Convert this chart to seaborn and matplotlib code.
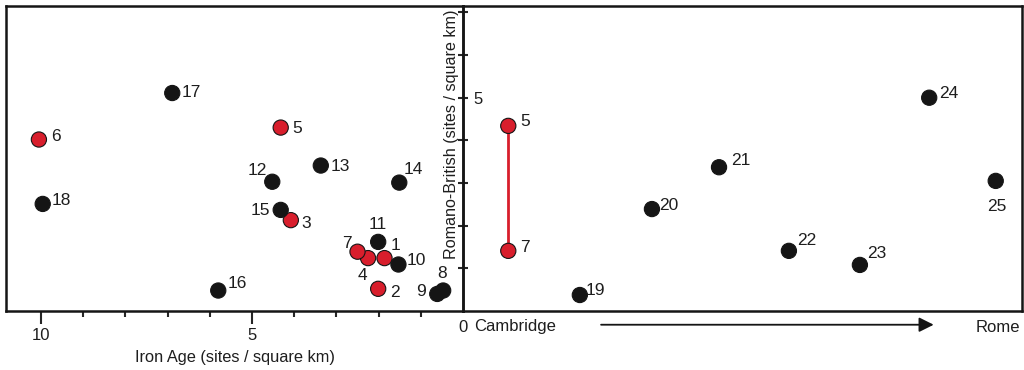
import pandas as pd
import matplotlib.pyplot as plt
import seaborn as sns

# Left panel: Iron Age density vs Romano-British density
left_ids = ['1', '2', '3', '4', '5', '6', '7', '8', '9', '10',
            '11', '12', '13', '14', '15', '16', '17', '18']
left_iron = [1.86, 2.01, 4.08, 2.25, 4.32, 10.05, 2.50, 0.47, 0.61, 1.53,
             2.01, 4.52, 3.37, 1.51, 4.32, 5.80, 6.89, 9.96]
left_roman = [1.24, 0.52, 2.13, 1.24, 4.30, 4.02, 1.39, 0.48, 0.40, 1.09,
              1.62, 3.03, 3.41, 3.01, 2.37, 0.48, 5.11, 2.51]
left_group = ['red'] * 7 + ['black'] * 11

# Right panel: distance from Cambridge (0) towards Rome (1)
right_ids = ['5', '7', '19', '20', '21', '22', '23', '24', '25']
right_dist = [0.081, 0.081, 0.209, 0.338, 0.458, 0.583, 0.710, 0.834, 0.953]
right_roman = [4.34, 1.41, 0.375, 2.39, 3.37, 1.41, 1.08, 5.00, 3.05]
right_group = ['red', 'red'] + ['black'] * 7

# label offsets in pixels (layout only)
left_off = {'17': (19, 1), '6': (17, 3), '5': (16, -1), '12': (-15, 11),
            '13': (20, -1), '14': (14, 13), '18': (19, 3), '15': (-20, -1),
            '3': (15, -3), '11': (0, 17), '7': (-11, 8), '1': (11, 13),
            '10': (18, 4), '4': (-6, -17), '2': (17, -4), '9': (-16, 2),
            '8': (-1, 17), '16': (19, 7)}
right_off = {'5': (17, 4), '7': (17, 3), '19': (16, 5), '20': (17, 4),
             '21': (22, 7), '22': (18, 10), '23': (17, 11), '24': (20, 4),
             '25': (1, -26)}

left_df = pd.DataFrame({'id': left_ids, 'iron': left_iron,
                        'roman': left_roman, 'group': left_group})
right_df = pd.DataFrame({'id': right_ids, 'dist': right_dist,
                         'roman': right_roman, 'group': right_group})

sns.set_style("white")
plt.rcParams['font.family'] = ['Liberation Sans', 'DejaVu Sans']

palette = {'red': '#d81e2c', 'black': '#151515'}
txt = '#1e1e1e'
W, H = 1024, 370
fig = plt.figure(figsize=(W / 100, H / 100), dpi=100)
ax_l = fig.add_axes([6 / W, 59 / H, 457 / W, 305 / H])
ax_r = fig.add_axes([463 / W, 59 / H, 559 / W, 305 / H])
ax_r.patch.set_alpha(0)

ymax = 7.15

# ---- left panel
sns.scatterplot(data=left_df, x='iron', y='roman', hue='group', palette=palette,
                s=120, edgecolor='#151515', linewidth=0.8, legend=False,
                ax=ax_l, zorder=3)
for i, row in left_df.iterrows():
    dx, dy = left_off[row['id']]
    ax_l.annotate(row['id'], (row['iron'], row['roman']), xytext=(dx, dy),
                  textcoords='offset pixels', ha='center', va='center',
                  fontsize=12.5, color=txt)
ax_l.set_xlim(10.83, 0)
ax_l.set_ylim(0, ymax)
ax_l.set_xticks([10, 5])
ax_l.set_xticklabels(['10', '5'], fontsize=12, color=txt)
ax_l.set_xticks([9, 8, 7, 6, 4, 3, 2, 1], minor=True)
ax_l.tick_params(axis='x', which='major', direction='out', length=9, width=1.5,
                 pad=3, bottom=True)
ax_l.tick_params(axis='x', which='minor', direction='out', length=4, width=1.5,
                 bottom=True)
ax_l.yaxis.tick_right()
ax_l.set_yticks([1, 2, 3, 4, 5, 6, 7])
ax_l.set_yticklabels(['', '', '', '', '5', '', ''], fontsize=12, color=txt)
ax_l.tick_params(axis='y', direction='inout', length=7, width=1.5, pad=4,
                 right=True)
ax_l.set_xlabel('Iron Age (sites / square km)', fontsize=11.8, labelpad=5,
                color=txt)
ax_l.set_ylabel('')
ax_l.text(0.975, 0.58, 'Romano-British (sites / square km)', rotation=90,
          transform=ax_l.transAxes, ha='center', va='center', fontsize=11.6,
          color=txt)
ax_l.annotate('0', xy=(0, 0), xycoords=('data', 'axes fraction'),
              xytext=(0, -16), textcoords='offset pixels', ha='center',
              va='center', fontsize=12, color=txt, annotation_clip=False)

# ---- right panel
red_pts = right_df[right_df['group'] == 'red']
sns.lineplot(data=red_pts, x='dist', y='roman', sort=False, estimator=None,
             color='#d81e2c', linewidth=2, ax=ax_r, zorder=2)
sns.scatterplot(data=right_df, x='dist', y='roman', hue='group', palette=palette,
                s=120, edgecolor='#151515', linewidth=0.8, legend=False,
                ax=ax_r, zorder=3)
for i, row in right_df.iterrows():
    dx, dy = right_off[row['id']]
    ax_r.annotate(row['id'], (row['dist'], row['roman']), xytext=(dx, dy),
                  textcoords='offset pixels', ha='center', va='center',
                  fontsize=12.5, color=txt)
ax_r.set_xlim(0, 1)
ax_r.set_ylim(0, ymax)
ax_r.set_xticks([])
ax_r.set_yticks([])
ax_r.set_xlabel('')
ax_r.set_ylabel('')
ax_r.annotate('Cambridge', xy=(0.093, 0), xycoords='axes fraction',
              xytext=(0, -16), textcoords='offset pixels', ha='center',
              va='center', fontsize=12, color=txt, annotation_clip=False)
ax_r.annotate('Rome', xy=(0.957, 0), xycoords='axes fraction',
              xytext=(0, -17), textcoords='offset pixels', ha='center',
              va='center', fontsize=12, color=txt, annotation_clip=False)
ax_r.annotate('', xy=(0.842, -0.045), xycoords='axes fraction',
              xytext=(0.247, -0.045), textcoords='axes fraction',
              arrowprops=dict(arrowstyle='-|>', color='#151515', lw=1.3,
                              mutation_scale=22, shrinkA=0, shrinkB=0),
              annotation_clip=False)

for ax in (ax_l, ax_r):
    for sp in ax.spines.values():
        sp.set_visible(True)
        sp.set_linewidth(1.8)
        sp.set_color('#151515')

fig.savefig('out.png', dpi=100)
